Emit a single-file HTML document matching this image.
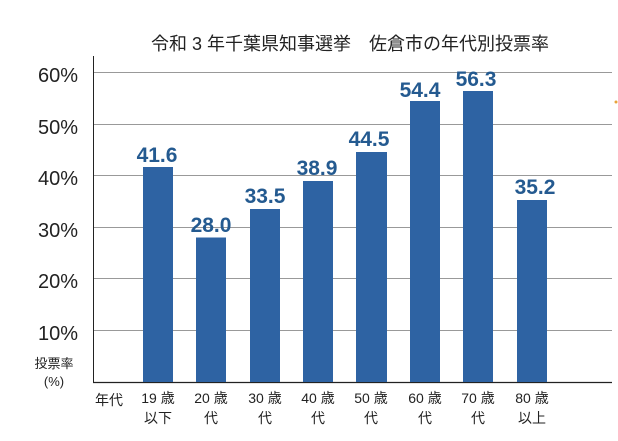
<!DOCTYPE html>
<html><head><meta charset="utf-8"><style>
body{margin:0;background:#fff;}
svg text{font-family:"Liberation Sans","Noto Sans CJK JP",sans-serif;}
</style></head><body>
<svg width="618" height="436" xmlns="http://www.w3.org/2000/svg">
<rect width="618" height="436" fill="#fff"/>
<text x="350" y="50" font-size="18" text-anchor="middle" fill="#222">令和 3 年千葉県知事選挙　佐倉市の年代別投票率</text>
<g stroke="#999" stroke-width="1">
<line x1="93" y1="72.5" x2="612" y2="72.5"/>
<line x1="93" y1="124.5" x2="612" y2="124.5"/>
<line x1="93" y1="175.5" x2="612" y2="175.5"/>
<line x1="93" y1="227.5" x2="612" y2="227.5"/>
<line x1="93" y1="278.5" x2="612" y2="278.5"/>
<line x1="93" y1="330.5" x2="612" y2="330.5"/>
</g>
<line x1="93.5" y1="56" x2="93.5" y2="382" stroke="#222"/>
<line x1="93" y1="382.5" x2="612" y2="382.5" stroke="#222" stroke-width="1.2"/>
<g font-size="20" fill="#222" text-anchor="end">
<text x="78" y="82">60%</text><text x="78" y="134">50%</text><text x="78" y="185">40%</text>
<text x="78" y="237">30%</text><text x="78" y="288">20%</text><text x="78" y="340">10%</text>
</g>
<text x="54" y="368" font-size="13" text-anchor="middle" fill="#222">投票率</text>
<text x="54" y="386" font-size="13" text-anchor="middle" fill="#222">(%)</text>
<g fill="#2e63a3">
<rect x="143" y="167" width="30" height="215"/>
<rect x="196" y="237.5" width="30" height="144.5"/>
<rect x="250" y="209" width="30" height="173"/>
<rect x="303" y="181" width="30" height="201"/>
<rect x="356" y="152" width="31" height="230"/>
<rect x="410" y="101" width="30" height="281"/>
<rect x="463" y="91" width="30" height="291"/>
<rect x="517" y="200" width="30" height="182"/>
</g>
<g font-size="21" font-weight="bold" text-anchor="middle" fill="#245a90">
<text x="157" y="162">41.6</text>
<text x="211" y="232">28.0</text>
<text x="265" y="203">33.5</text>
<text x="317" y="175">38.9</text>
<text x="369" y="146">44.5</text>
<text x="420" y="97">54.4</text>
<text x="476" y="86">56.3</text>
<text x="535" y="194">35.2</text>
</g>
<g font-size="14" fill="#222" text-anchor="middle">
<text x="109" y="405">年代</text>
<text x="158" y="403">19 歳</text><text x="158" y="423">以下</text>
<text x="211" y="403">20 歳</text><text x="211" y="423">代</text>
<text x="265" y="403">30 歳</text><text x="265" y="423">代</text>
<text x="318" y="403">40 歳</text><text x="318" y="423">代</text>
<text x="371" y="403">50 歳</text><text x="371" y="423">代</text>
<text x="425" y="403">60 歳</text><text x="425" y="423">代</text>
<text x="478" y="403">70 歳</text><text x="478" y="423">代</text>
<text x="532" y="403">80 歳</text><text x="532" y="423">以上</text>
</g>
<circle cx="616" cy="102" r="1.5" fill="#e8a33a"/>
</svg>
</body></html>
